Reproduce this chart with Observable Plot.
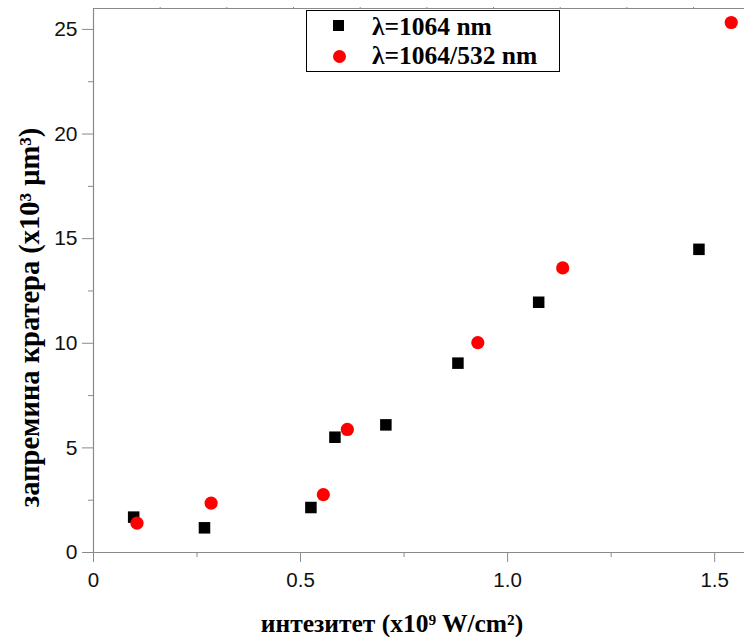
<!DOCTYPE html>
<html>
<head>
<meta charset="utf-8">
<script src="https://cdn.jsdelivr.net/npm/d3@7"></script>
<script src="https://cdn.jsdelivr.net/npm/@observablehq/plot@0.6"></script>
<style>
  body { margin: 0; background: #fff; }
  #wrap { position: relative; width: 744px; height: 637px; }
  #legend { position: absolute; left: 306px; top: 10px; width: 252px; height: 60px; border: 1px solid #000; background: #fff;
    font-family: "Liberation Serif", "Times New Roman", serif; font-weight: bold; font-size: 25.5px; color: #000; }
  .item { position: absolute; left: 0; height: 30px; line-height: 30px; }
  .item span.t { position: absolute; left: 65px; white-space: nowrap; }
  .sq { position: absolute; left: 26px; top: 8px; width: 11px; height: 11px; background: #000; }
  .ci { position: absolute; left: 26px; top: 9px; width: 13px; height: 13px; border-radius: 50%; background: #ff0000; }
</style>
</head>
<body>
<div id="wrap"></div>
<script>
// Series λ=1064 nm (black squares)
const x1064 = [0.097, 0.268, 0.525, 0.583, 0.706, 0.880, 1.075, 1.462];
const y1064 = [1.69, 1.18, 2.15, 5.51, 6.10, 9.05, 11.96, 14.49];
// Series λ=1064/532 nm (red circles)
const x532 = [0.105, 0.284, 0.555, 0.613, 0.928, 1.133, 1.540];
const y532 = [1.40, 2.36, 2.77, 5.88, 10.03, 13.60, 25.33];

const xTicks = [0, 0.5, 1.0, 1.5];
const xMinor = [0.25, 0.75, 1.25];
const yTicks = [0, 5, 10, 15, 20, 25];
const yMinor = [2.5, 7.5, 12.5, 17.5, 22.5];
const topTicks = [0.161, 0.322, 0.483, 0.644, 0.805, 0.966, 1.127, 1.288, 1.449];

const legendLabels = ["λ=1064 nm", "λ=1064/532 nm"];
const xLabel = "интезитет (x10⁹ W/cm²)";
const yLabel = "запремина кратера (x10³ μm³)";

const s1 = x1064.map((x, i) => ({x, y: y1064[i]}));
const s2 = x532.map((x, i) => ({x, y: y532[i]}));

const axisColor = "#8a8a8a";
const serif = "Liberation Serif, Times New Roman, serif";

const chart = Plot.plot({
  width: 744,
  height: 637,
  marginLeft: 93,
  marginRight: 0,
  marginTop: 8,
  marginBottom: 85,
  style: {fontFamily: "Liberation Sans, Arial, sans-serif", fontSize: "20px", background: "#fff", overflow: "visible"},
  x: {domain: [0, 1.572]},
  y: {domain: [0, 26.0]},
  marks: [
    Plot.ruleY([26.0], {stroke: axisColor, strokeWidth: 1.2}),
    Plot.ruleX([0], {stroke: axisColor, strokeWidth: 1.2}),
    Plot.ruleY([0], {stroke: axisColor, strokeWidth: 1.2}),
    Plot.axisX({ticks: xTicks, tickSize: 10, tickPadding: 10, stroke: axisColor, fill: "#111", fontSize: 20.5,
      tickFormat: d => d === 0 ? "0" : d.toFixed(1), label: null}),
    Plot.axisX({ticks: xMinor, tickSize: 5, stroke: axisColor, tickFormat: () => "", label: null}),
    Plot.axisX({anchor: "top", ticks: topTicks, tickSize: 2, stroke: axisColor, tickFormat: () => "", label: null}),
    Plot.axisY({ticks: yTicks, tickSize: 11, tickPadding: 5, stroke: axisColor, fill: "#111", fontSize: 21,
      tickFormat: d => String(d), label: null}),
    Plot.axisY({ticks: yMinor, tickSize: 5, stroke: axisColor, tickFormat: () => "", label: null}),
    Plot.dot(s1, {x: "x", y: "y", symbol: "square", r: 6.5, fill: "#000", stroke: null}),
    Plot.dot(s2, {x: "x", y: "y", symbol: "circle", r: 6.6, fill: "#ff0000", stroke: null}),
    Plot.text([xLabel], {frameAnchor: "bottom", text: d => d, textAnchor: "middle", dx: -27, dy: 79,
      fontFamily: serif, fontWeight: "bold", fontSize: 25.5, fill: "#000"}),
    Plot.text([yLabel], {frameAnchor: "left", text: d => d, rotate: -90, textAnchor: "middle", lineAnchor: "middle", dx: -64, dy: 37,
      fontFamily: serif, fontWeight: "bold", fontSize: 28.5, fill: "#000"})
  ]
});

const wrap = document.getElementById("wrap");
wrap.appendChild(chart);
const lg = document.createElement("div");
lg.id = "legend";
lg.innerHTML = `<div class="item" style="top:1px;width:100%"><div class="sq"></div><span class="t">${legendLabels[0]}</span></div>
<div class="item" style="top:30px;width:100%"><div class="ci"></div><span class="t">${legendLabels[1]}</span></div>`;
wrap.appendChild(lg);
</script>
</body>
</html>
